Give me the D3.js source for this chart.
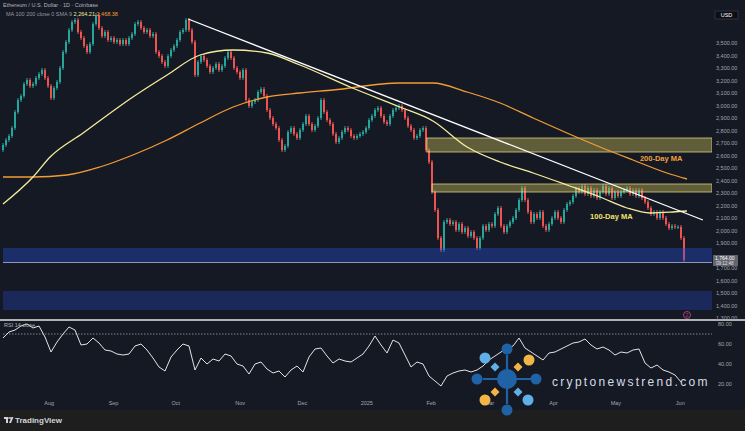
<!DOCTYPE html>
<html>
<head>
<meta charset="utf-8">
<script src="https://cdn.jsdelivr.net/npm/d3@7"></script>
<style>
  body { margin: 0; background: #151924; overflow: hidden; }
  svg { display: block; }
  text { font-family: "Liberation Sans", Arial, sans-serif; }
</style>
</head>
<body>
<script>
// daily closes (one entry per candle), open of a candle = previous close
const firstOpen = 2644
const closes = [
  2684, 2724, 2756, 2820, 2948, 3044, 3076, 3172, 3204, 3156, 3172, 3220, 3252, 3284, 3220, 3156, 3060, 3140, 3188, 3300,
  3428, 3508, 3604, 3668, 3684, 3588, 3540, 3476, 3428, 3492, 3652, 3724, 3620, 3556, 3588, 3524, 3540, 3508, 3524, 3492,
  3524, 3492, 3540, 3572, 3652, 3668, 3620, 3588, 3604, 3556, 3572, 3428, 3396, 3348, 3316, 3396, 3444, 3476, 3524, 3588, 3604, 3684,
  3604, 3508, 3244, 3348, 3396, 3364, 3316, 3268, 3300, 3332, 3284, 3316, 3380, 3428, 3380, 3300, 3268, 3220, 3284,
  3044, 2996, 3028, 3044, 3108, 3132, 3076, 2964, 2900, 2852, 2820, 2724, 2644, 2676, 2788, 2820, 2772, 2740, 2804, 2852,
  2916, 2852, 2804, 2836, 2900, 3044, 2948, 2884, 2852, 2772, 2708, 2740, 2788, 2820, 2804, 2756, 2740, 2756, 2772, 2788,
  2820, 2884, 2916, 2964, 2980, 2916, 2868, 2852, 2916, 2964, 2980, 2996, 2964, 2900, 2836, 2804, 2740, 2756, 2804, 2820,
  2644, 2548, 2308, 2164, 1940, 1844, 2068, 2084, 2052, 2068, 2004, 2052, 1988, 2020, 1956, 1988, 1940, 1860, 1940, 2036,
  2004, 2052, 2036, 2132, 2180, 2036, 1988, 2036, 2068, 2100, 2164, 2244, 2340, 2244, 2148, 2068, 2132, 2100, 2148, 2036,
  2004, 2052, 2100, 2148, 2100, 2068, 2164, 2212, 2228, 2276, 2340, 2308, 2356, 2292, 2340, 2276, 2324, 2260, 2308, 2356,
  2292, 2340, 2260, 2308, 2276, 2308, 2324, 2340, 2292, 2324, 2276, 2324, 2260, 2228, 2180, 2132, 2148, 2100, 2148, 2100,
  2052, 2020, 2036, 2028, 2028, 1940, 1764
]

// RSI(14), one value every second candle
const rsi = [
  66, 72, 74, 78, 80, 76, 78, 67, 52, 62, 70, 77, 74, 59, 60, 66, 61, 54, 53, 50,
  49, 50, 58, 60, 54, 46, 37, 33, 47, 54, 60, 58, 34, 46, 40, 45, 43, 50, 48, 40,
  38, 30, 40, 42, 35, 31, 33, 27, 34, 38, 32, 47, 55, 56, 48, 41, 45, 43, 42, 46,
  50, 58, 68, 59, 51, 64, 61, 49, 37, 42, 40, 28, 23, 18, 28, 31, 33, 34, 32, 34,
  38, 44, 48, 52, 56, 58, 66, 56, 52, 48, 44, 51, 52, 55, 58, 61, 62, 65, 59, 55,
  57, 54, 49, 52, 51, 54, 55, 41, 36, 39, 34, 32, 29, 22
]

// moving averages as [candle index, price]
const ma100 = [[0, 2212], [10, 2428], [15.7, 2588], [26.7, 2780], [43.3, 3068], [54.7, 3244], [65.7, 3404],
  [76.7, 3444], [88, 3420], [99, 3324], [115.7, 3148], [132.3, 2988], [143.3, 2876], [154.7, 2668],
  [165.7, 2548], [176.7, 2460], [188, 2364], [199, 2268], [208, 2180], [215.7, 2140], [223.3, 2148], [228, 2156]]
const ma200 = [[0, 2428], [10, 2428], [21.3, 2444], [32.3, 2508], [43.3, 2604], [54.7, 2724], [65.7, 2860],
  [76.7, 2988], [88, 3068], [99, 3100], [110, 3124], [132.3, 3180], [143.3, 3180], [154.7, 3108],
  [165.7, 3020], [176.7, 2900], [188, 2780], [199, 2668], [210, 2564], [221.3, 2460], [228, 2412]]

// drawings
const trendLine = [[61.7, 3692], [233.3, 2084]]
const supplyZones = [[2740, 2628, 141.3], [2372, 2308, 143]]   // top, bottom, first candle
const demandZones = [[1860, 1748], [1516, 1364]]

const priceTicks = [1300, 1400, 1500, 1600, 1700, 1800, 1900, 2000, 2100, 2200, 2300, 2400,
  2500, 2600, 2700, 2800, 2900, 3000, 3100, 3200, 3300, 3400, 3500]
const rsiTicks = [80, 60, 40, 20]
const startDate = new Date(2024, 6, 10)
const endDate = new Date(2025, 5, 4)

const W = 745, H = 431
const plotRight = 712

const svg = d3.select('body').append('svg')
  .attr('width', W)
  .attr('height', H)

svg.append('rect').attr('width', W).attr('height', H).attr('fill', '#151924')
svg.append('rect').attr('y', 410).attr('width', W).attr('height', 21).attr('fill', '#1e1e1e')

const x = d3.scaleLinear().domain([0, closes.length - 1]).range([3, 684])
const y = d3.scaleLinear().domain([1300, 3500]).range([318, 43])
const yr = d3.scaleLinear().domain([20, 80]).range([384, 324])
const t = d3.scaleTime().domain([startDate, endDate]).range([3, 686])

const defs = svg.append('defs')
defs.append('clipPath').attr('id', 'main').append('rect')
  .attr('x', 0).attr('y', 8).attr('width', plotRight).attr('height', 311)
defs.append('clipPath').attr('id', 'osc').append('rect')
  .attr('x', 0).attr('y', 321).attr('width', plotRight).attr('height', 76)

const main = svg.append('g').attr('clip-path', 'url(#main)')

// candles
const candles = closes.map((c, i) => ({ i, o: i ? closes[i - 1] : firstOpen, c }))
const up = '#26a69a', down = '#ef5350'

main.selectAll('.wick')
  .data(candles)
  .enter().append('rect')
  .attr('class', 'wick')
  .attr('x', d => x(d.i) - 0.5)
  .attr('width', 1)
  .attr('y', d => y(Math.max(d.o, d.c)) - 2)
  .attr('height', d => Math.abs(y(d.o) - y(d.c)) + 4)
  .attr('fill', d => d.c >= d.o ? up : down)

main.selectAll('.body')
  .data(candles)
  .enter().append('rect')
  .attr('class', 'body')
  .attr('x', d => x(d.i) - 1)
  .attr('width', 2)
  .attr('y', d => y(Math.max(d.o, d.c)))
  .attr('height', d => Math.max(1, Math.abs(y(d.o) - y(d.c))))
  .attr('fill', d => d.c >= d.o ? up : down)

// zones
main.selectAll('.demand')
  .data(demandZones)
  .enter().append('rect')
  .attr('class', 'demand')
  .attr('x', 3)
  .attr('width', plotRight - 3)
  .attr('y', d => y(d[0]))
  .attr('height', d => y(d[1]) - y(d[0]))
  .attr('fill', (d, i) => i ? 'rgba(41,82,230,0.28)' : 'rgba(41,82,230,0.36)')

main.append('line')
  .attr('x1', 3).attr('x2', plotRight)
  .attr('y1', y(demandZones[0][1]) + 0.5).attr('y2', y(demandZones[0][1]) + 0.5)
  .attr('stroke', '#aeb8dc').attr('stroke-width', 0.8)

main.selectAll('.supply')
  .data(supplyZones)
  .enter().append('rect')
  .attr('class', 'supply')
  .attr('x', d => x(d[2]))
  .attr('width', d => plotRight - x(d[2]))
  .attr('y', d => y(d[0]))
  .attr('height', d => y(d[1]) - y(d[0]))
  .attr('fill', 'rgba(200,190,90,0.42)')
  .attr('stroke', 'rgba(225,215,130,0.75)')
  .attr('stroke-width', 1)

// moving averages and trend line
const maLine = d3.line()
  .x(d => x(d[0]))
  .y(d => y(d[1]))
  .curve(d3.curveMonotoneX)

main.append('path').datum(ma200)
  .attr('d', maLine)
  .attr('fill', 'none').attr('stroke', '#f39c34').attr('stroke-width', 1.3)

main.append('path').datum(ma100)
  .attr('d', maLine)
  .attr('fill', 'none').attr('stroke', '#f5ec9c').attr('stroke-width', 1.3)

main.append('path').datum(trendLine)
  .attr('d', d3.line().x(d => x(d[0])).y(d => y(d[1])))
  .attr('fill', 'none').attr('stroke', '#ffffff').attr('stroke-width', 1.3)

main.append('text')
  .attr('x', x(212.3)).attr('y', y(2556))
  .attr('font-size', 7.5).attr('font-weight', 'bold')
  .attr('fill', '#f2a041')
  .text('200-Day MA')

main.append('text')
  .attr('x', x(195.7)).attr('y', y(2092))
  .attr('font-size', 7.5).attr('font-weight', 'bold')
  .attr('fill', '#f3e26a')
  .text('100-Day MA')

// event marker
svg.append('circle').attr('cx', 687).attr('cy', 315).attr('r', 3.5)
  .attr('fill', 'none').attr('stroke', '#a8407f').attr('stroke-width', 1)
svg.append('text').attr('x', 687).attr('y', 317).attr('text-anchor', 'middle')
  .attr('font-size', 5).attr('fill', '#a8407f').text('2')

// pane separator
svg.append('line')
  .attr('x1', 0).attr('x2', W).attr('y1', 320).attr('y2', 320)
  .attr('stroke', '#e6e6e6').attr('stroke-width', 1.6)

// price axis (labels hidden under the last-price box are skipped)
const last = closes[closes.length - 1]
const priceAxis = svg.append('g')
  .attr('transform', 'translate(714,0)')
  .call(d3.axisRight(y)
    .tickValues(priceTicks.filter(p => Math.abs(y(p) - y(last)) > 7))
    .tickFormat(d3.format(',.2f')).tickSize(0).tickPadding(2))
priceAxis.select('.domain').remove()
priceAxis.selectAll('text').attr('font-size', 5.5).attr('fill', '#a3a6af')

svg.append('rect').attr('x', 713).attr('y', y(last) - 5).attr('width', 25).attr('height', 11).attr('fill', '#62656e')
svg.append('text').attr('x', 715).attr('y', y(last) - 0.5).attr('font-size', 5).attr('fill', '#ffffff')
  .text(d3.format(',.2f')(last))
svg.append('text').attr('x', 716).attr('y', y(last) + 4.5).attr('font-size', 4.5).attr('fill', '#e0e0e0')
  .text('09:12:48')

svg.append('rect').attr('x', 715).attr('y', 11).attr('width', 23).attr('height', 8)
  .attr('fill', '#0c0e14').attr('stroke', '#363a45').attr('stroke-width', 0.8)
svg.append('text').attr('x', 726.5).attr('y', 17).attr('text-anchor', 'middle')
  .attr('font-size', 5.5).attr('fill', '#ffffff').text('USD')

// RSI pane
const osc = svg.append('g').attr('clip-path', 'url(#osc)')
osc.append('line')
  .attr('x1', 3).attr('x2', plotRight).attr('y1', yr(70)).attr('y2', yr(70))
  .attr('stroke', '#9ba0aa').attr('stroke-width', 0.8).attr('stroke-dasharray', '1.5,1.5')

osc.append('path').datum(rsi)
  .attr('d', d3.line().x((d, k) => x(k * 2)).y(d => yr(d)))
  .attr('fill', 'none').attr('stroke', '#e4e4e4').attr('stroke-width', 1)

const rsiAxis = svg.append('g')
  .attr('transform', 'translate(716,0)')
  .call(d3.axisRight(yr).tickValues(rsiTicks).tickFormat(d3.format('.2f')).tickSize(0).tickPadding(2))
rsiAxis.select('.domain').remove()
rsiAxis.selectAll('text').attr('font-size', 5.5).attr('fill', '#a3a6af')

svg.append('text').attr('x', 4).attr('y', 327).attr('font-size', 5.5).attr('fill', '#b2b5be')
  .text('RSI 14 close')

// time axis
const timeAxis = svg.append('g')
  .attr('transform', 'translate(0,401)')
  .call(d3.axisBottom(t)
    .ticks(d3.timeMonth.every(1))
    .tickFormat(d => d.getMonth() === 0 ? d3.timeFormat('%Y')(d) : d3.timeFormat('%b')(d))
    .tickSize(0).tickPadding(0))
timeAxis.select('.domain').remove()
timeAxis.selectAll('text').attr('font-size', 5.5).attr('fill', '#a3a6af')

// header
svg.append('text').attr('x', 3).attr('y', 7).attr('font-size', 5.5).attr('fill', '#b2b5be')
  .text('Ethereum / U.S. Dollar · 1D · Coinbase')
const legend = svg.append('text').attr('x', 6).attr('y', 16).attr('font-size', 5.5)
legend.append('tspan').attr('fill', '#9598a1').text('MA 100 200 close 0 SMA 9 ')
legend.append('tspan').attr('fill', '#f5ec9c').text('2,264.21 ')
legend.append('tspan').attr('fill', '#f39c34').text('2,468.38')

// footer
const tv = svg.append('g').attr('fill', '#d1d4dc')
tv.append('rect').attr('x', 4).attr('y', 417).attr('width', 4.5).attr('height', 2)
tv.append('rect').attr('x', 6).attr('y', 417).attr('width', 2).attr('height', 6)
tv.append('circle').attr('cx', 10).attr('cy', 418).attr('r', 1)
tv.append('path').attr('d', 'M11.5,417 L13.5,417 L11,423 L9,423 Z')
svg.append('text').attr('x', 15).attr('y', 423).attr('font-size', 8).attr('font-weight', 600)
  .attr('fill', '#d1d4dc').text('TradingView')

// watermark
const wm = svg.append('g')
const dark = '#1f63a6', light = '#5fb0e8', gold = '#f4b547'
wm.selectAll('.bar').data([[507, 355, 507, 404], [483, 379, 531, 379]])
  .enter().append('line')
  .attr('x1', d => d[0]).attr('y1', d => d[1]).attr('x2', d => d[2]).attr('y2', d => d[3])
  .attr('stroke', dark).attr('stroke-width', 2.2)
wm.append('circle').attr('cx', 507).attr('cy', 379).attr('r', 10).attr('fill', dark)
const dots = [[507, 349, dark], [507, 410, dark], [477, 379, dark], [536, 379, dark],
  [485, 358, light], [529, 360, gold], [485, 400, gold], [528, 400, light]]
wm.selectAll('.dot').data(dots).enter().append('circle')
  .attr('cx', d => d[0]).attr('cy', d => d[1]).attr('r', 5.5).attr('fill', d => d[2])
const diamonds = [[495, 367, light], [518, 367, gold], [495, 392, gold], [518, 392, light]]
wm.selectAll('.dia').data(diamonds).enter().append('rect')
  .attr('x', -3.2).attr('y', -3.2).attr('width', 6.4).attr('height', 6.4)
  .attr('transform', d => `translate(${d[0]},${d[1]}) rotate(45)`)
  .attr('fill', d => d[2])
wm.append('text').attr('x', 552).attr('y', 386)
  .attr('font-size', 12).attr('letter-spacing', 2.3).attr('fill', '#d8dde6')
  .text('cryptonewstrend.com')
</script>
</body>
</html>
